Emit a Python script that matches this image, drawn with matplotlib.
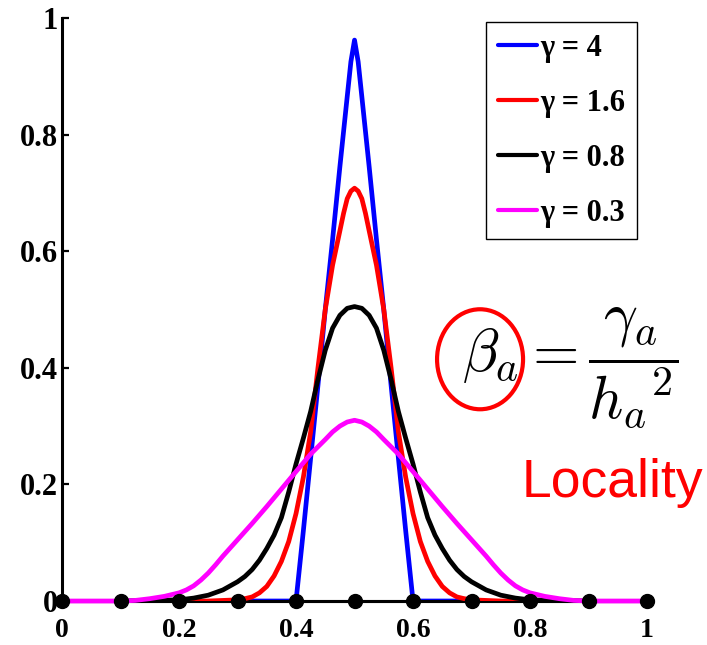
import matplotlib
matplotlib.use('Agg')  # Non-GUI backend
import matplotlib.pyplot as plt
from matplotlib.patches import Ellipse

plt.rcParams['mathtext.fontset'] = 'cm'

# values (each is symmetric about x = 0.5)
x_blue = [0.3, 0.4, 0.4125, 0.425, 0.4375, 0.45, 0.4625, 0.475, 0.4875, 0.4938, 0.5,
          0.5062, 0.5125, 0.525, 0.5375, 0.55, 0.5625, 0.575, 0.5875, 0.6, 0.7]
y_blue = [0.0, 0.0, 0.12, 0.245, 0.37, 0.50, 0.62, 0.745, 0.865, 0.925, 0.962,
          0.925, 0.865, 0.745, 0.62, 0.50, 0.37, 0.245, 0.12, 0.0, 0.0]

x_red = [0.2, 0.25, 0.3, 0.3125, 0.325, 0.3375, 0.35, 0.3625, 0.375, 0.3875, 0.4, 0.4125,
         0.425, 0.4375, 0.45, 0.4625, 0.475, 0.4813, 0.4875, 0.4938, 0.5,
         0.5062, 0.5125, 0.5187, 0.525, 0.5375, 0.55, 0.5625, 0.575, 0.5875, 0.6, 0.6125,
         0.625, 0.6375, 0.65, 0.6625, 0.675, 0.6875, 0.7, 0.75, 0.8]
y_red = [0.0, 0.0, 0.002, 0.004, 0.007, 0.014, 0.025, 0.043, 0.068, 0.102, 0.15, 0.212,
         0.29, 0.40, 0.50, 0.576, 0.635, 0.665, 0.690, 0.703, 0.708,
         0.703, 0.690, 0.665, 0.635, 0.576, 0.50, 0.40, 0.29, 0.212, 0.15, 0.102,
         0.068, 0.043, 0.025, 0.014, 0.007, 0.004, 0.002, 0.0, 0.0]

x_black = [0.1, 0.2, 0.225, 0.25, 0.275, 0.3, 0.3125, 0.325, 0.3375, 0.35, 0.3625, 0.375,
           0.3875, 0.4, 0.4125, 0.425, 0.4375, 0.45, 0.4625, 0.475, 0.4875, 0.5,
           0.5125, 0.525, 0.5375, 0.55, 0.5625, 0.575, 0.5875, 0.6, 0.6125, 0.625, 0.6375,
           0.65, 0.6625, 0.675, 0.6875, 0.7, 0.725, 0.75, 0.775, 0.8, 0.9]
y_black = [0.0, 0.002, 0.005, 0.01, 0.019, 0.033, 0.042, 0.054, 0.07, 0.09, 0.113, 0.143,
           0.187, 0.235, 0.279, 0.325, 0.38, 0.43, 0.468, 0.49, 0.502, 0.505,
           0.502, 0.49, 0.468, 0.43, 0.38, 0.325, 0.279, 0.235, 0.187, 0.143, 0.113,
           0.09, 0.07, 0.054, 0.042, 0.033, 0.019, 0.01, 0.005, 0.002, 0.0]

x_mag = [0.0, 0.05, 0.1, 0.125, 0.15, 0.175, 0.2, 0.2125, 0.225, 0.2375, 0.25, 0.2625,
         0.275, 0.2875, 0.3, 0.325, 0.35, 0.375, 0.4, 0.425, 0.45, 0.4625, 0.475, 0.4875, 0.5,
         0.5125, 0.525, 0.5375, 0.55, 0.575, 0.6, 0.625, 0.65, 0.675, 0.7, 0.7125, 0.725,
         0.7375, 0.75, 0.7625, 0.775, 0.7875, 0.8, 0.825, 0.85, 0.875, 0.9, 0.95, 1.0]
y_mag = [0.0, 0.0, 0.0, 0.001, 0.004, 0.008, 0.014, 0.019, 0.026, 0.036, 0.048, 0.062,
         0.077, 0.091, 0.105, 0.133, 0.162, 0.192, 0.222, 0.252, 0.277, 0.29, 0.30, 0.307, 0.31,
         0.307, 0.30, 0.29, 0.277, 0.252, 0.222, 0.192, 0.162, 0.133, 0.105, 0.091, 0.077,
         0.062, 0.048, 0.036, 0.026, 0.019, 0.014, 0.008, 0.004, 0.001, 0.0, 0.0, 0.0]

nodes_x = [0.0, 0.1, 0.2, 0.3, 0.4, 0.5, 0.6, 0.7, 0.8, 0.9, 1.0]
nodes_y = [0.0] * len(nodes_x)

labels = ['γ = 4', 'γ = 1.6', 'γ = 0.8', 'γ = 0.3']
ticks = [0, 0.2, 0.4, 0.6, 0.8, 1]
tick_labels = ['0', '0.2', '0.4', '0.6', '0.8', '1']

fig = plt.figure(figsize=(7.07, 6.45), dpi=100)
ax = fig.add_axes([0.0877, 0.0682, 0.8275, 0.904])

lw = 3.4
style = dict(linewidth=lw, solid_joinstyle='round', solid_capstyle='round')
ax.plot(nodes_x, nodes_y, color='black', linewidth=2.2, zorder=1, clip_on=False)
ax.plot(x_blue, y_blue, color='#0000ff', label=labels[0], zorder=2, **style)
ax.plot(x_red, y_red, color='#ff0000', label=labels[1], zorder=3, **style)
ax.plot(x_black, y_black, color='black', label=labels[2], zorder=4, **style)
ax.plot(x_mag, y_mag, color='#ff00ff', label=labels[3], zorder=5, clip_on=False, **style)
ax.plot(nodes_x, nodes_y, 'o', color='black', markersize=10, zorder=6, clip_on=False)

ax.set_xlim(0, 1)
ax.set_ylim(0, 1)
ax.set_xticks(ticks)
ax.set_yticks(ticks)
ax.set_xticklabels(tick_labels)
ax.set_yticklabels(tick_labels)
for lab in ax.get_xticklabels():
    lab.set_fontfamily('Liberation Serif')
    lab.set_fontweight('bold')
    lab.set_fontsize(20)
for lab in ax.get_yticklabels():
    lab.set_fontfamily('Liberation Serif')
    lab.set_fontweight('bold')
    lab.set_fontsize(22)
ax.tick_params(axis='y', direction='in', length=5, width=1.6, pad=3)
ax.tick_params(axis='x', direction='in', length=5, width=1.6, pad=12)
ax.spines['top'].set_visible(False)
ax.spines['right'].set_visible(False)
ax.spines['left'].set_linewidth(2.2)
ax.spines['bottom'].set_linewidth(2.2)

leg = ax.legend(loc='upper right', bbox_to_anchor=(0.983, 0.993), fancybox=False,
                edgecolor='black', framealpha=1, handlelength=1.3, handletextpad=0.1,
                labelspacing=0.85, borderpad=0.38, borderaxespad=0,
                prop={'family': 'Liberation Serif', 'weight': 'bold', 'size': 22})
leg.get_frame().set_linewidth(1.0)
for line in leg.get_lines():
    line.set_linewidth(3)

# formula and annotation
fig.text(0.806, 0.430, r'$\beta_a = \dfrac{\gamma_a}{{h_a}^2}$', fontsize=43,
         ha='center', va='center')
fig.add_artist(Ellipse((0.679, 0.443), 86 / 707, 100 / 645, transform=fig.transFigure,
                       fill=False, edgecolor='#ff0000', linewidth=3))
fig.text(0.738, 0.229, 'Locality', color='#ff0000', fontsize=38.5,
         family='Liberation Sans', ha='left', va='baseline')

fig.savefig('out.png', dpi=100)
